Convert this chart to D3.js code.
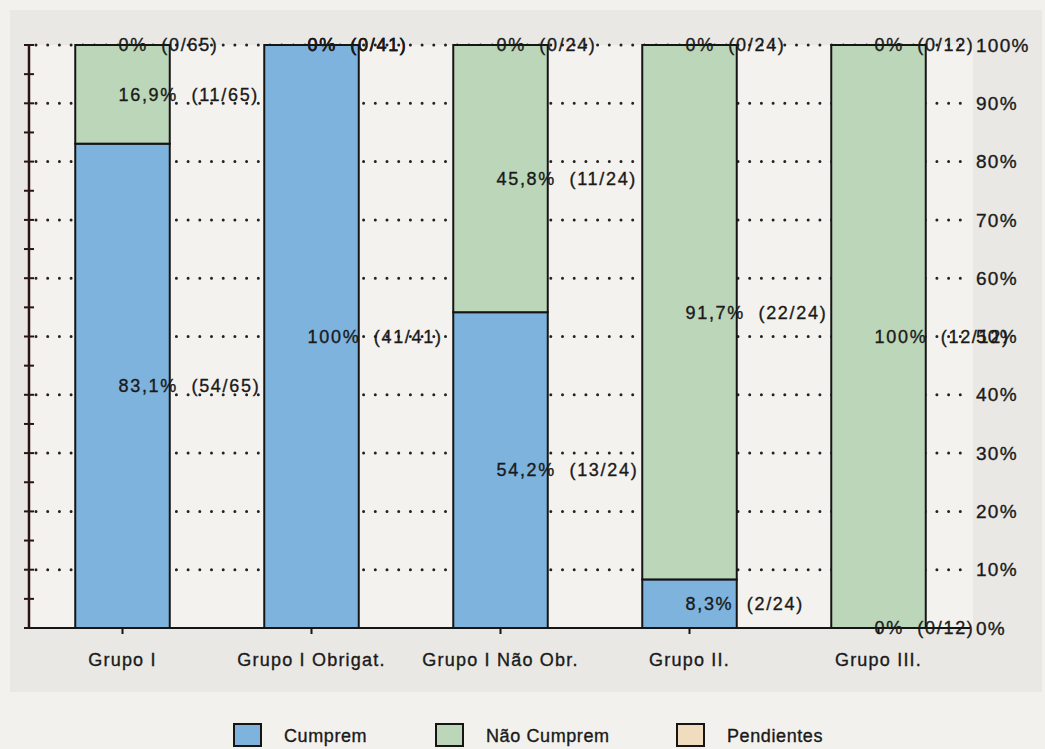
<!DOCTYPE html>
<html>
<head>
<meta charset="utf-8">
<script src="https://cdn.jsdelivr.net/npm/d3@7"></script>
<style>
  body { margin: 0; background: #f3f1ed; }
  svg { display: block; font-family: "Liberation Sans", Arial, sans-serif; }
  text { stroke: #1a1a1a; stroke-width: 0.35px; fill: #1a1a1a; }
</style>
</head>
<body>
<div id="chart"></div>
<script>
// Data
const groups = ["Grupo I", "Grupo I Obrigat.", "Grupo I Não Obr.", "Grupo II.", "Grupo III."];
const cumprem = [54, 41, 13, 2, 0];
const naoCumprem = [11, 0, 11, 22, 12];
const pendientes = [0, 0, 0, 0, 0];
const totals = [65, 41, 24, 24, 12];
const seriesNames = ["Cumprem", "Não Cumprem", "Pendientes"];
const seriesColors = ["#7db3dd", "#bcd6ba", "#f1dcbf"];
const pctTicks = [0, 10, 20, 30, 40, 50, 60, 70, 80, 90, 100];

const W = 1045, H = 749;
const plotL = 28, plotR = 973, plotT = 45, plotB = 628;

const svg = d3.select("#chart").append("svg")
  .attr("width", W)
  .attr("height", H);

// background panels
svg.append("rect").attr("x", 10).attr("y", 10).attr("width", 1032).attr("height", 682).attr("fill", "#e9e8e5");
svg.append("rect").attr("x", plotL).attr("y", plotT).attr("width", plotR - plotL).attr("height", plotB - plotT).attr("fill", "#f4f2ee");

const x = d3.scaleBand().domain(groups).range([plotL, plotR]).paddingInner(0.5).paddingOuter(0.25);
const y = d3.scaleLinear().domain([0, 100]).range([plotB, plotT]);

// dotted grid
svg.append("g").selectAll("line").data(pctTicks.slice(1)).join("line")
  .attr("x1", plotL + 8).attr("x2", 968)
  .attr("y1", d => y(d)).attr("y2", d => y(d))
  .attr("stroke", "#222").attr("stroke-width", 3)
  .attr("stroke-linecap", "round")
  .attr("stroke-dasharray", "0 11.7");

// stacked data
const series = [cumprem, naoCumprem, pendientes];
const fmt = v => (v === 0 || v === 100) ? v + "%" : v.toFixed(1).replace(".", ",") + "%";

const segs = [];
groups.forEach((g, i) => {
  let acc = 0;
  series.forEach((s, k) => {
    const p = s[i] / totals[i] * 100;
    segs.push({ g, k, y0: acc, y1: acc + p, n: s[i], t: totals[i] });
    acc += p;
  });
});

// bars
svg.append("g").selectAll("rect").data(segs).join("rect")
  .attr("x", d => x(d.g))
  .attr("width", x.bandwidth())
  .attr("y", d => y(d.y1))
  .attr("height", d => y(d.y0) - y(d.y1))
  .attr("fill", d => seriesColors[d.k])
  .attr("stroke", "#151515")
  .attr("stroke-width", 2);

// left axis
const yAxis = svg.append("g");
yAxis.append("line").attr("x1", 29).attr("x2", 29).attr("y1", plotT).attr("y2", plotB)
  .attr("stroke", "#2a1414").attr("stroke-width", 2.5);
yAxis.selectAll("line.tk").data(d3.range(0, 101, 5)).join("line").attr("class", "tk")
  .attr("x1", 24).attr("x2", 34)
  .attr("y1", d => y(d)).attr("y2", d => y(d))
  .attr("stroke", "#2a1414").attr("stroke-width", 2);

// bottom axis
svg.append("line").attr("x1", 29).attr("x2", 970).attr("y1", plotB).attr("y2", plotB)
  .attr("stroke", "#151515").attr("stroke-width", 2);
svg.append("g").selectAll("line").data(groups).join("line")
  .attr("x1", d => x(d) + x.bandwidth() / 2).attr("x2", d => x(d) + x.bandwidth() / 2)
  .attr("y1", plotB).attr("y2", plotB + 6)
  .attr("stroke", "#151515").attr("stroke-width", 2);

svg.append("g").selectAll("text").data(groups).join("text")
  .attr("x", d => x(d) + x.bandwidth() / 2)
  .attr("y", 666)
  .attr("text-anchor", "middle")
  .attr("font-size", 18)
  .attr("letter-spacing", 1.2)
  .text(d => d);

// right axis labels
svg.append("g").selectAll("text").data(pctTicks).join("text")
  .attr("x", 976)
  .attr("y", d => y(d))
  .attr("dy", "0.35em")
  .attr("font-size", 19)
  .attr("letter-spacing", 1.3)
  .text(d => d + "%");

// segment labels
svg.append("g").selectAll("text").data(segs).join("text")
  .attr("x", d => x(d.g) + x.bandwidth() / 2 - 4)
  .attr("y", d => y((d.y0 + d.y1) / 2))
  .attr("dy", "0.35em")
  .attr("font-size", 18)
  .attr("letter-spacing", 1.7)
  .style("white-space", "pre")
  .text(d => fmt(Math.round(d.n / d.t * 1000) / 10) + "  (" + d.n + "/" + d.t + ")");

// legend
const legX = [234, 436, 677];
const leg = svg.append("g").selectAll("g").data(seriesNames).join("g")
  .attr("transform", (d, i) => `translate(${legX[i]},724)`);
leg.append("rect").attr("width", 27).attr("height", 22)
  .attr("fill", (d, i) => seriesColors[i])
  .attr("stroke", "#151515").attr("stroke-width", 2);
leg.append("text").attr("x", 50).attr("y", 12).attr("dy", "0.35em")
  .attr("font-size", 18).attr("letter-spacing", 0.6)
  .text(d => d);
</script>
</body>
</html>
